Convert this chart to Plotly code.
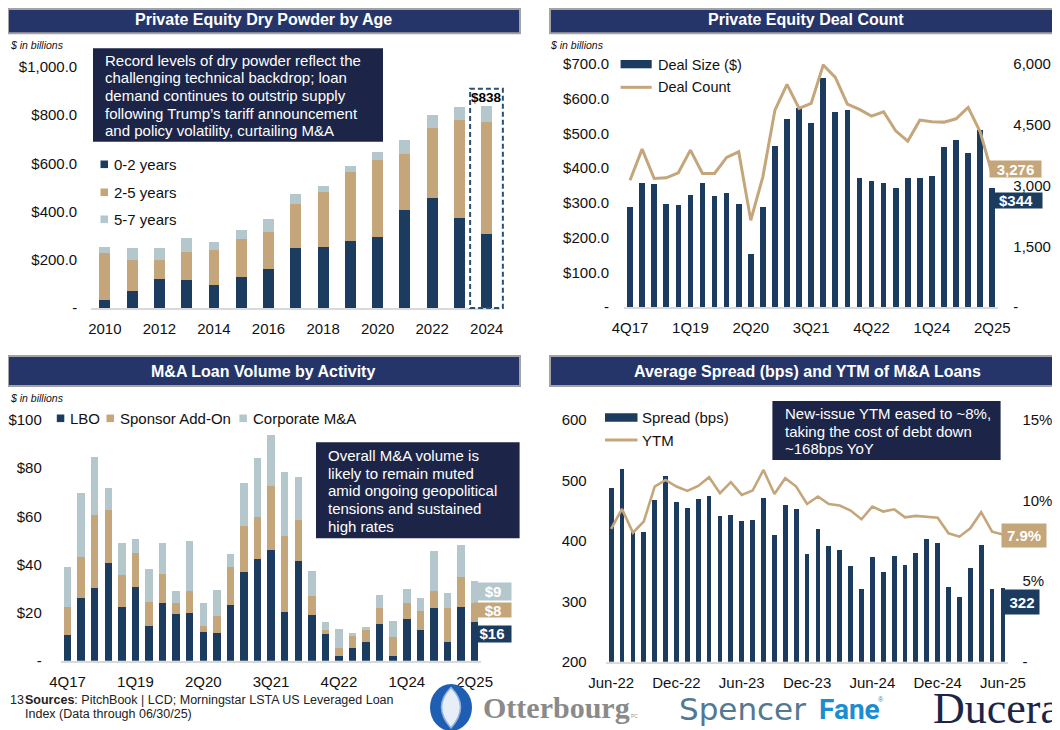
import plotly.graph_objects as go

W, H = 1060, 730
OFF = 8  # the page body offsets the figure by 8px; coordinates below are page pixels
def px(x): return (x - OFF) / W
def py(y): return 1 - (y - OFF) / H

# ---------------- DATA ----------------
years = ["2010", "2011", "2012", "2013", "2014", "2015", "2016", "2017",
         "2018", "2019", "2020", "2021", "2022", "2023", "2024"]
dp_0_2 = [34, 72, 120, 117, 97, 128, 163, 251, 255, 280, 296, 405, 456, 374, 306]
dp_2_5 = [196, 129, 80, 117, 142, 157, 151, 182, 226, 284, 318, 233, 291, 405, 465]
dp_5_7 = [25, 46, 51, 56, 33, 40, 57, 39, 25, 25, 33, 58, 53, 57, 67]
dp_ticks = [0, 200, 400, 600, 800, 1000]
dp_ticktext = ["-", "$200.0", "$400.0", "$600.0", "$800.0", "$1,000.0"]

quarters = ["4Q17", "1Q18", "2Q18", "3Q18", "4Q18", "1Q19", "2Q19", "3Q19", "4Q19",
            "1Q20", "2Q20", "3Q20", "4Q20", "1Q21", "2Q21", "3Q21", "4Q21",
            "1Q22", "2Q22", "3Q22", "4Q22", "1Q23", "2Q23", "3Q23", "4Q23",
            "1Q24", "2Q24", "3Q24", "4Q24", "1Q25", "2Q25"]
deal_size = [288, 356, 353, 298, 295, 322, 358, 319, 329, 298, 152, 287, 464, 541, 572,
             530, 659, 562, 567, 373, 362, 358, 343, 372, 372, 376, 460, 482, 445, 509, 344]
deal_count = [3131, 3898, 3172, 3189, 3313, 3873, 3296, 3296, 3692, 3832, 2142, 3214, 4862,
              5496, 4903, 5026, 5974, 5669, 5010, 4878, 4713, 4820, 4351, 4095, 4614, 4573,
              4565, 4647, 4928, 4326, 3276]
ds_ticks = [0, 100, 200, 300, 400, 500, 600, 700]
ds_ticktext = ["-", "$100.0", "$200.0", "$300.0", "$400.0", "$500.0", "$600.0", "$700.0"]
dc_ticks = [0, 1500, 3000, 4500, 6000]
dc_ticktext = ["-", "1,500", "3,000", "4,500", "6,000"]

lbo = [10.7, 25.9, 30.3, 40.7, 22.4, 30.7, 14.5, 24.1, 19.4, 19.7, 12.0, 11.4, 23.1, 37.0,
       42.4, 46.0, 20.2, 41.4, 19.0, 10.9, 1.9, 5.1, 7.9, 15.2, 1.9, 17.3, 12.7, 22.0, 7.9,
       22.4, 16]
addon = [11.5, 17.3, 30.2, 21.9, 13.2, 13.9, 10.0, 11.9, 4.7, 9.4, 2.4, 7.3, 16.0, 19.0,
         17.4, 26.7, 31.6, 17.0, 8.0, 1.8, 3.5, 5.3, 4.8, 6.8, 7.8, 6.8, 7.9, 7.1, 14.1,
         12.5, 8]
corp = [16.9, 26.3, 24.0, 9.0, 13.4, 5.8, 13.4, 12.8, 4.8, 20.5, 9.4, 10.7, 5.1, 18.0,
        24.3, 21.1, 26.7, 18.1, 10.4, 3.5, 7.6, 1.2, 1.4, 5.3, 6.9, 5.7, 5.6, 16.5, 6.0,
        13.0, 9]
ma_ticks = [0, 20, 40, 60, 80, 100]
ma_ticktext = ["-", "$20", "$40", "$60", "$80", "$100"]

months = ["Jun-22", "Jul-22", "Aug-22", "Sep-22", "Oct-22", "Nov-22", "Dec-22",
          "Jan-23", "Feb-23", "Mar-23", "Apr-23", "May-23", "Jun-23", "Jul-23", "Aug-23",
          "Sep-23", "Oct-23", "Nov-23", "Dec-23", "Jan-24", "Feb-24", "Mar-24", "Apr-24",
          "May-24", "Jun-24", "Jul-24", "Aug-24", "Sep-24", "Oct-24", "Nov-24", "Dec-24",
          "Jan-25", "Feb-25", "Mar-25", "Apr-25", "May-25", "Jun-25"]
spread = [487, 519, 414, 415, 467, 508, 465, 455, 469, 475, 441, 443, 433, 434, 471, 410,
          460, 453, 378, 420, 391, 385, 359, 321, 373, 349, 375, 360, 380, 403, 397, 323,
          307, 355, 393, 321, 322]
ytm = [8.24, 9.48, 8.01, 8.70, 10.87, 11.28, 10.87, 10.60, 10.91, 11.45, 10.46, 11.14,
       10.35, 10.62, 11.90, 10.41, 11.39, 10.87, 9.79, 10.25, 9.79, 9.69, 9.38, 8.84, 9.63,
       9.32, 9.46, 8.96, 9.05, 9.01, 8.94, 7.97, 7.76, 8.28, 9.28, 8.07, 7.9]
sp_ticks = [200, 300, 400, 500, 600]
ytm_ticks = [0, 5, 10, 15]
ytm_ticktext = ["-", "5%", "10%", "15%"]

# ---------------- STYLE ----------------
NAVY = "#1b3c5f"
TAN = "#c4a67a"
LIGHT = "#b4c7cd"
BANNER = "#253569"
BOX = "#1c2547"
FONT = "Arial, Liberation Sans, sans-serif"
TXT = "#111111"

P1X = (91.2, 500.4)
P1Y = (308, 67)

fig = go.Figure()

# Panel 1
xi1 = list(range(len(years)))
for vals, col in [(dp_0_2, NAVY), (dp_2_5, TAN), (dp_5_7, LIGHT)]:
    fig.add_bar(x=xi1, y=vals, marker=dict(color=col, line=dict(width=0)), width=0.4,
                xaxis="x", yaxis="y", showlegend=False)

# Panel 2
xi2 = list(range(len(quarters)))
fig.add_bar(x=xi2, y=deal_size, marker=dict(color=NAVY, line=dict(width=0)), width=0.47,
            xaxis="x2", yaxis="y2", showlegend=False)
fig.add_scatter(x=xi2, y=deal_count, mode="lines", line=dict(color=TAN, width=3),
                xaxis="x2", yaxis="y3", showlegend=False)

# Panel 3
for vals, col in [(lbo, NAVY), (addon, TAN), (corp, LIGHT)]:
    fig.add_bar(x=xi2, y=vals, marker=dict(color=col, line=dict(width=0)), width=0.55,
                xaxis="x3", yaxis="y4", showlegend=False)

# Panel 4
xi4 = list(range(len(months)))
fig.add_bar(x=xi4, y=spread, marker=dict(color=NAVY, line=dict(width=0)), width=0.44,
            xaxis="x4", yaxis="y5", showlegend=False)
fig.add_scatter(x=xi4, y=ytm, mode="lines", line=dict(color=TAN, width=2.6),
                xaxis="x4", yaxis="y6", showlegend=False)

tickfont = dict(family=FONT, size=15, color=TXT)
def xax(dom, anchor, n, step, labels):
    return dict(domain=[px(dom[0]), px(dom[1])], anchor=anchor, range=[-0.5, n - 0.5],
                tickvals=list(range(0, n, step)), ticktext=labels[::step],
                showgrid=False, zeroline=False, showline=True, linecolor="#d9d9d9",
                linewidth=2, ticks="outside", ticklen=6, tickcolor="rgba(0,0,0,0)",
                tickfont=tickfont, fixedrange=True, automargin=False)
def yax(dom, anchor, rng, tv, tt, tl, side="left", overlay=None):
    d = dict(domain=[py(dom[0]), py(dom[1])], anchor=anchor, range=rng, tickvals=tv,
             ticktext=tt, showgrid=False, zeroline=False, showline=False,
             ticks="outside", ticklen=tl, tickcolor="rgba(0,0,0,0)", tickfont=tickfont,
             side=side, fixedrange=True, automargin=False)
    if overlay:
        d["overlaying"] = overlay
        d.pop("domain")
    return d

fig.update_layout(
    template="none",
    width=W, height=H, margin=dict(l=0, r=0, t=0, b=0, pad=0, autoexpand=False), autosize=False,
    paper_bgcolor="white", plot_bgcolor="rgba(0,0,0,0)", barmode="stack", showlegend=False,
    font=dict(family=FONT, color=TXT),
    xaxis=xax(P1X, "y", len(years), 2, years),
    yaxis=yax(P1Y, "x", [0, 1000], dp_ticks, dp_ticktext, 10),
    xaxis2=xax((624, 998.3), "y2", len(quarters), 5, quarters),
    yaxis2=yax((307, 64), "x2", [0, 700], ds_ticks, ds_ticktext, 11),
    yaxis3=yax((307, 64), "x2", [0, 6000], dc_ticks, dc_ticktext, 11, side="right", overlay="y2"),
    xaxis3=xax((60.8, 481.4), "y4", len(quarters), 5, quarters),
    yaxis4=yax((660.7, 420), "x3", [0, 100], ma_ticks, ma_ticktext, 15),
    xaxis4=xax((605.7, 1008.4), "y5", len(months), 6, months),
    yaxis5=yax((661.7, 420), "x4", [200, 600], sp_ticks, [str(v) for v in sp_ticks], 15),
    yaxis6=yax((661.7, 420), "x4", [0, 15], ytm_ticks, ytm_ticktext, 10, side="right", overlay="y5"),
)

shapes = []
ann = []

def rect(x0, y0, x1, y1, fill, line=None, lw=0):
    shapes.append(dict(type="rect", xref="paper", yref="paper", x0=px(x0), x1=px(x1),
                       y0=py(y1), y1=py(y0), fillcolor=fill,
                       line=dict(width=lw, color=line or fill), layer="above"))

def text(x, y, t, size=15, color=TXT, xanchor="left", bold=False, family=FONT, italic=False, **kw):
    if bold:
        t = f"<b>{t}</b>"
    if italic:
        t = f"<i>{t}</i>"
    a = dict(xref="paper", yref="paper", x=px(x), y=py(y), text=t, showarrow=False,
             xanchor=xanchor, yanchor="middle", font=dict(family=family, size=size, color=color))
    a.update(kw)
    ann.append(a)

def label(cx, cy, w, h, t, bg, size=15):
    ann.append(dict(xref="paper", yref="paper", x=px(cx), y=py(cy), text=f"<b>{t}</b>",
                    showarrow=False, xanchor="center", yanchor="middle", width=w, height=h,
                    bgcolor=bg, borderpad=0, align="center", valign="middle",
                    font=dict(family=FONT, size=size, color="white")))

# Banners
for (x0, x1, y0, y1, title, cx) in [
        (8, 520, 3.3, 33.3, "Private Equity Dry Powder by Age", 263),
        (550, 1070, 3.3, 33.3, "Private Equity Deal Count", 806),
        (8, 520, 356, 386, "M&A Loan Volume by Activity", 263),
        (550, 1070, 356, 386, "Average Spread (bps) and YTM of M&A Loans", 807)]:
    rect(x0, max(y0, 9), x1, y1, BANNER, line="#a3a3a3", lw=2)
    text(cx, (y0 + y1) / 2 + 1.5 if y0 < 9 else (y0 + y1) / 2 + 0.5, title, size=16,
         color="white", xanchor="center", bold=True)

# $ in billions
text(8, 45, "$ in billions", size=10.5, italic=True)
text(547.5, 44.5, "$ in billions", size=10.5, italic=True)
text(8, 398, "$ in billions", size=10.5, italic=True)

# Panel 1 commentary box
rect(93, 48.3, 383, 141.7, BOX)
for i, line in enumerate(["Record levels of dry powder reflect the",
                          "challenging technical backdrop; loan",
                          "demand continues to outstrip supply",
                          "following Trump\u2019s tariff announcement",
                          "and policy volatility, curtailing M&A"]):
    text(103, 60.5 + i * 17.5, line, size=15, color="white")

# Panel 1 legend
for i, (lab, col) in enumerate([("0-2 years", NAVY), ("2-5 years", TAN), ("5-7 years", LIGHT)]):
    yc = [164.3, 192.3, 219.3][i]
    rect(100.5, yc - 3.8, 108, yc + 3.8, col)
    text(111.5, yc, lab, size=15)

# Panel 1 highlight of last bar (dashed frame) + total label
last = len(years) - 1
total_last = dp_0_2[-1] + dp_2_5[-1] + dp_5_7[-1]
slot = (P1X[1] - P1X[0]) / len(years)
cx_last = P1X[0] + (last + 0.5) * slot
ytop = P1Y[0] - (total_last + 72) / 1000 * (P1Y[0] - P1Y[1])
shapes.append(dict(type="rect", xref="paper", yref="paper",
                   x0=px(cx_last - 0.61 * slot), x1=px(cx_last + 0.59 * slot),
                   y0=py(P1Y[0]), y1=py(ytop),
                   line=dict(color="#2b4f73", width=2, dash="5px,3px"),
                   fillcolor="rgba(0,0,0,0)", layer="above"))
ann.append(dict(xref="x", yref="y", x=last, y=total_last, text=f"<b>${total_last}</b>",
                showarrow=False, yanchor="bottom", xanchor="center", yshift=-1,
                font=dict(family=FONT, size=13.5, color="#000")))

# Panel 2 legend
rect(620.6, 60, 651.7, 68.3, NAVY)
text(655.5, 64.5, "Deal Size ($)", size=14.5)
shapes.append(dict(type="line", xref="paper", yref="paper", x0=px(620.6), x1=px(651.7),
                   y0=py(87.3), y1=py(87.3), line=dict(color=TAN, width=3)))
text(655.5, 87.3, "Deal Count", size=14.5)
label(1015.4, 168.7, 51, 16, f"{deal_count[-1]:,}", TAN)
label(1015.9, 200.8, 52, 15, f"${deal_size[-1]}", NAVY)

# Panel 3 legend
for xs, lab, col in [(56.8, "LBO", NAVY), (106.5, "Sponsor Add-On", TAN), (239.4, "Corporate M&A", LIGHT)]:
    rect(xs, 418.3 - 3.8, xs + 7.5, 418.3 + 3.8, col)
    text(xs + 11.5, 418.3, lab, size=15)
rect(316, 442.3, 519.6, 538.3, BOX)
for i, line in enumerate(["Overall M&A volume is", "likely to remain muted",
                          "amid ongoing geopolitical", "tensions and sustained", "high rates"]):
    text(326.2, 455.3 + i * 17.7, line, size=15, color="white")
label(493, 591, 36, 16.5, f"${corp[-1]:.0f}", LIGHT)
label(493, 610.3, 36, 14, f"${addon[-1]:.0f}", TAN)
label(492, 633.9, 38, 15.7, f"${lbo[-1]:.0f}", NAVY)

# Panel 4 legend & box
rect(605, 413.3, 637.5, 421.7, NAVY)
text(640, 417.7, "Spread (bps)", size=15)
shapes.append(dict(type="line", xref="paper", yref="paper", x0=px(605), x1=px(637.5),
                   y0=py(440), y1=py(440), line=dict(color=TAN, width=3)))
text(640, 440, "YTM", size=15)
rect(772.4, 401, 1000.6, 460, BOX)
for i, line in enumerate(["New-issue YTM eased to ~8%,", "taking the cost of debt down",
                          "~168bps YoY"]):
    text(782.9, 413.3 + i * 17.7, line, size=15, color="white")
label(1023.8, 535.3, 44, 23, f"{ytm[-1]:.1f}%", TAN)
label(1022, 602, 34, 24, f"{spread[-1]}", NAVY)

# Footer
text(8, 700, "13", size=12.5, color="#222")
text(22.5, 700, "<b>Sources</b>: PitchBook | LCD; Morningstar LSTA US Leveraged Loan", size=12.5, color="#222")
text(22.5, 713.5, "Index (Data through 06/30/25)", size=12.5, color="#222")

# Logos
shapes.append(dict(type="circle", xref="paper", yref="paper", x0=px(430), x1=px(472),
                   y0=py(731), y1=py(684), fillcolor="#1f5fb3", line=dict(width=0), layer="above"))
lens = (f"M {px(451)},{py(687.5)} C {px(438.5)},{py(700)} {px(438.5)},{py(714)} {px(451)},{py(728)} "
        f"C {px(463.5)},{py(714)} {px(463.5)},{py(700)} {px(451)},{py(687.5)} Z")
shapes.append(dict(type="path", xref="paper", yref="paper", path=lens, fillcolor="#e8eef8",
                   line=dict(width=1.5, color="#8fb0de"), layer="above"))
text(481, 707, "Otterbourg", size=30, color="#8a8a8a", bold=True,
     family="Liberation Serif, DejaVu Serif, serif")
text(629, 716, "PC", size=5, color="#999")
text(677, 709, "Spencer", size=31, color="#527892", family="DejaVu Sans, sans-serif")
text(817, 709, "<b>Fane</b>", size=28, color="#1b8dd0", family="Roboto, sans-serif")
text(876, 699, "\u00ae", size=7, color="#1b8dd0")
text(931, 708, "Ducera", size=44, color="#1b2548", family="Liberation Serif, DejaVu Serif, serif")

fig.update_layout(shapes=shapes, annotations=ann)
fig.write_html("out.html")
